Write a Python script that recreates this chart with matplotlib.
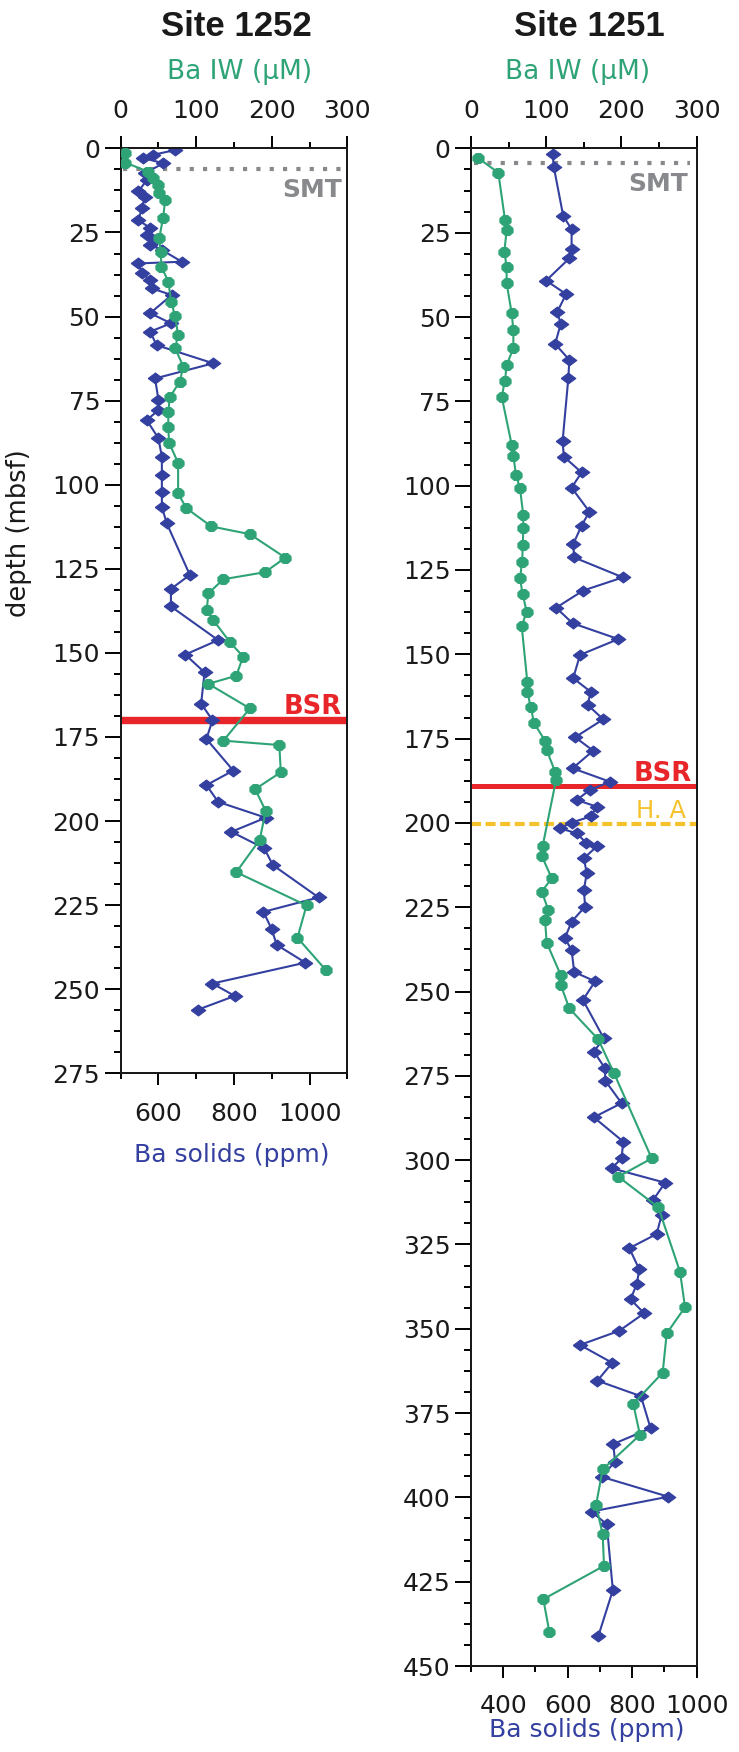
import matplotlib
matplotlib.use("Agg")
import matplotlib.pyplot as plt
import numpy as np

plt.rcParams['font.family'] = ['DejaVu Sans']

# ---------------- data ----------------
# Site 1252: Ba in solids (ppm) and in interstitial water (uM) vs depth (mbsf)
depth_solid_1252 = [0.5, 1.9, 2.9, 4.4, 7.4, 9.4, 12.8, 14.5, 17.8, 21.3,
                    23.7, 25.7, 27.2, 28.7, 30.2, 33.7, 34.2, 37.1, 39.1, 41.6,
                    43.6, 49.0, 52.0, 54.5, 58.5, 63.9, 68.4, 74.8, 77.8, 80.8,
                    86.2, 91.7, 97.1, 102.1, 106.6, 111.5, 126.8, 131.0, 136.2, 146.2,
                    150.5, 155.8, 165.1, 170.0, 175.6, 185.0, 189.3, 194.3, 199.0, 203.2,
                    208.1, 213.1, 222.7, 227.0, 232.2, 236.8, 242.1, 248.3, 252.0, 256.1]
ba_solid_1252 = [644, 586, 560, 613, 564, 569, 547, 564, 556, 547,
                 578, 569, 591, 578, 609, 662, 547, 556, 578, 582,
                 635, 578, 633, 578, 595, 745, 591, 600, 600, 569,
                 600, 609, 609, 609, 609, 622, 683, 633, 633, 758,
                 671, 722, 713, 743, 727, 798, 727, 758, 884, 793,
                 880, 903, 1024, 878, 900, 913, 989, 743, 802, 704]

depth_iw_1252 = [1.4, 4.2, 6.9, 8.9, 10.9, 13.3, 15.3, 20.8, 26.7, 30.7,
                 35.2, 39.6, 45.8, 49.8, 55.5, 59.4, 64.9, 69.4, 74.0, 78.3,
                 82.7, 87.5, 93.5, 102.6, 107.0, 112.4, 114.7, 121.7, 126.0, 128.1,
                 132.3, 137.2, 140.1, 146.9, 151.1, 156.8, 159.2, 166.5, 176.1, 177.4,
                 185.5, 190.5, 197.0, 205.6, 215.2, 225.1, 234.7, 244.4]
ba_iw_1252 = [6, 6, 36, 43, 50, 51, 59, 56, 51, 53,
              54, 63, 67, 72, 76, 72, 83, 78, 65, 63,
              63, 64, 76, 76, 87, 120, 171, 218, 191, 136,
              116, 114, 122, 145, 162, 153, 116, 171, 136, 210,
              212, 178, 192, 184, 153, 246, 234, 272]

# Site 1251
depth_solid_1251 = [1.6, 5.6, 20.0, 24.0, 29.9, 32.6, 39.2, 43.2, 48.4, 52.1,
                    58.0, 62.7, 68.0, 86.9, 91.4, 96.1, 100.6, 107.7, 111.9, 117.3,
                    121.3, 127.2, 131.1, 136.2, 140.8, 145.5, 150.2, 157.1, 161.1, 165.0,
                    169.3, 174.6, 178.6, 183.8, 187.8, 190.2, 193.2, 195.2, 198.1, 199.9,
                    201.6, 203.1, 205.9, 207.0, 210.5, 214.9, 219.9, 224.8, 229.3, 234.2,
                    237.7, 244.2, 247.0, 252.5, 263.9, 267.8, 272.8, 276.4, 283.1, 287.3,
                    294.5, 299.5, 302.4, 306.7, 311.8, 316.3, 321.9, 326.1, 332.4, 336.7,
                    341.3, 345.4, 350.6, 354.8, 360.1, 365.4, 370.0, 379.5, 384.2, 389.4,
                    393.9, 399.8, 404.2, 408.0, 427.5, 441.1]
ba_solid_1251 = [553, 557, 586, 612, 612, 605, 533, 595, 568, 578,
                 561, 605, 602, 584, 588, 643, 612, 667, 643, 617,
                 620, 771, 648, 564, 615, 757, 638, 617, 671, 662,
                 710, 623, 679, 615, 731, 669, 628, 690, 671, 612,
                 576, 628, 657, 690, 650, 659, 650, 654, 612, 591,
                 612, 620, 685, 647, 712, 681, 716, 716, 767, 681,
                 772, 767, 736, 902, 865, 891, 876, 791, 822, 814,
                 795, 837, 760, 638, 738, 692, 827, 857, 741, 747,
                 705, 912, 674, 721, 740, 695]

depth_iw_1251 = [2.9, 7.2, 21.2, 24.2, 30.6, 35.2, 40.0, 48.9, 53.8, 59.3,
                 64.2, 68.9, 73.6, 87.9, 91.2, 96.8, 100.8, 108.7, 112.6, 117.6,
                 122.5, 127.5, 132.2, 137.4, 141.6, 158.1, 161.1, 165.5, 170.3, 175.7,
                 178.4, 184.8, 187.3, 206.8, 209.8, 216.4, 220.4, 225.8, 228.8, 235.5,
                 245.1, 248.0, 255.0, 264.2, 274.2, 299.5, 304.9, 314.0, 333.1, 343.6,
                 351.4, 363.0, 372.3, 381.5, 391.7, 402.3, 410.9, 420.3, 430.2, 439.8]
ba_iw_1251 = [9.7, 36.3, 45.2, 47.4, 44.3, 47.4, 47.4, 54.1, 56.3, 56.3,
              47.4, 45.2, 40.8, 54.1, 56.3, 59.8, 65.1, 69.5, 69.5, 68.9,
              68.0, 65.1, 68.7, 74.0, 67.4, 74.8, 74.8, 79.3, 83.7, 98.4,
              100.6, 111.7, 113.0, 95.3, 94.0, 107.3, 94.0, 102.8, 98.4, 100.6,
              119.2, 119.2, 130.7, 169.2, 190.1, 240.2, 195.8, 249.0, 277.8, 284.5,
              260.1, 254.8, 215.7, 224.6, 175.0, 166.2, 175.0, 176.8, 96.1, 104.1]

# horizon depths (mbsf)
smt_1252, bsr_1252 = 6.0, 170.0
smt_1251, bsr_1251, ha_1251 = 4.2, 189.2, 200.3

# ---------------- style ----------------
BLUE = '#3440a0'
GREEN = '#2ea376'
GRAY = '#87898c'
RED = '#e8262a'
YELLOW = '#f5c22b'
INK = '#1a1a1a'

DIAMOND = [(-1, 0), (0, 0.75), (1, 0), (0, -0.75), (-1, 0)]
_ang = np.deg2rad(22.5 + 45 * np.arange(9))
OCTAGON = list(zip(np.cos(_ang), 0.88 * np.sin(_ang)))

W, H = 739, 1752
fig = plt.figure(figsize=(W / 100, H / 100), dpi=100)


def px_axes(x0, y0, x1, y1):
    return fig.add_axes([x0 / W, 1 - y1 / H, (x1 - x0) / W, (y1 - y0) / H])


def ftext(x, y, s, **kw):
    fig.text(x / W, 1 - y / H, s, **kw)


def style_axes(ax, top, xlim, xmaj, xmin, dmax):
    ax.set_xlim(*xlim)
    ax.set_ylim(dmax, 0)
    ax.set_xticks(xmaj)
    ax.set_xticks(xmin, minor=True)
    ax.set_yticks(np.arange(0, dmax + 1, 25))
    ax.set_yticks(np.arange(0, dmax, 6.25), minor=True)
    ax.tick_params(axis='x', which='major', direction='out', length=8.4, width=1.4,
                   pad=12, labelsize=18, labelcolor=INK, top=False)
    ax.tick_params(axis='x', which='minor', direction='out', length=4, width=1.4, top=False)
    ax.tick_params(axis='y', which='major', direction='out', length=11.3, width=1.4,
                   pad=3.5, labelsize=18, labelcolor=INK, right=False)
    ax.tick_params(axis='y', which='minor', direction='out', length=5.3, width=1.4, right=False)
    top.set_xlim(0, 300)
    top.set_xticks([0, 100, 200, 300])
    top.set_xticks([50, 150, 250], minor=True)
    top.tick_params(axis='x', which='major', direction='out', length=8.4, width=1.4,
                    pad=10, labelsize=18, labelcolor=INK)
    top.tick_params(axis='x', which='minor', direction='out', length=4, width=1.4)
    for a in (ax, top):
        for sp in a.spines.values():
            sp.set_linewidth(1.4)
            sp.set_color(INK)


def draw_profiles(ax, top, ds, bs, di, bi):
    ax.plot(bs, ds, color=BLUE, lw=1.5, marker=DIAMOND, ms=10.5, mfc=BLUE, mec=BLUE,
            mew=0.8, zorder=4)
    top.plot(bi, di, color=GREEN, lw=1.5, marker=OCTAGON, ms=8, mfc=GREEN, mec=GREEN,
             mew=0.8, zorder=5)


# ---------------- Site 1252 ----------------
ax1 = px_axes(120.7, 148.4, 347.3, 1073.3)
top1 = ax1.twiny()
style_axes(ax1, top1, (500, 1100), [600, 800, 1000], [500, 700, 900, 1100], 275)
ax1.axhline(smt_1252, xmin=0.012, xmax=0.97, color=GRAY, lw=3, ls=(0, (1, 2.2)), zorder=2)
ax1.axhline(bsr_1252, color=RED, lw=5.3, zorder=2)
draw_profiles(ax1, top1, depth_solid_1252, ba_solid_1252, depth_iw_1252, ba_iw_1252)

# ---------------- Site 1251 ----------------
ax2 = px_axes(471.0, 148.4, 696.7, 1666.0)
top2 = ax2.twiny()
style_axes(ax2, top2, (300, 1000), [400, 600, 800, 1000], [300, 500, 700, 900], 450)
ax2.axhline(smt_1251, xmin=0.012, xmax=0.97, color=GRAY, lw=3, ls=(0, (1, 2.2)), zorder=2)
ax2.axhline(bsr_1251, color=RED, lw=3.6, zorder=2)
ax2.axhline(ha_1251, color=YELLOW, lw=3, ls=(0, (2.4, 1.1)), zorder=2)
draw_profiles(ax2, top2, depth_solid_1251, ba_solid_1251, depth_iw_1251, ba_iw_1251)

# ---------------- annotations ----------------
ftext(236, 36, 'Site 1252', family='Liberation Sans', weight='bold', size=25,
      ha='center', va='baseline', color=INK)
ftext(589, 36, 'Site 1251', family='Liberation Sans', weight='bold', size=25,
      ha='center', va='baseline', color=INK)
ftext(240, 79, 'Ba IW (μM)', size=19, color=GREEN, ha='center', va='baseline')
ftext(578, 79, 'Ba IW (μM)', size=19, color=GREEN, ha='center', va='baseline')
ftext(232, 1162, 'Ba solids (ppm)', size=18, color=BLUE, ha='center', va='baseline')
ftext(587, 1737, 'Ba solids (ppm)', size=18, color=BLUE, ha='center', va='baseline')
ftext(19, 533, 'depth (mbsf)', size=18.5, color=INK, ha='center', va='center',
      rotation=90)

ftext(342, 196.7, 'SMT', size=18, weight='bold', color=GRAY, ha='right', va='baseline')
ftext(688, 191, 'SMT', size=18, weight='bold', color=GRAY, ha='right', va='baseline')
ftext(342, 714, 'BSR', size=18.5, weight='bold', color=RED, ha='right', va='baseline')
ftext(692, 781, 'BSR', size=18.5, weight='bold', color=RED, ha='right', va='baseline')
ftext(686, 818, 'H. A', size=17.5, color=YELLOW, ha='right', va='baseline')

fig.savefig('out.png', dpi=100)
